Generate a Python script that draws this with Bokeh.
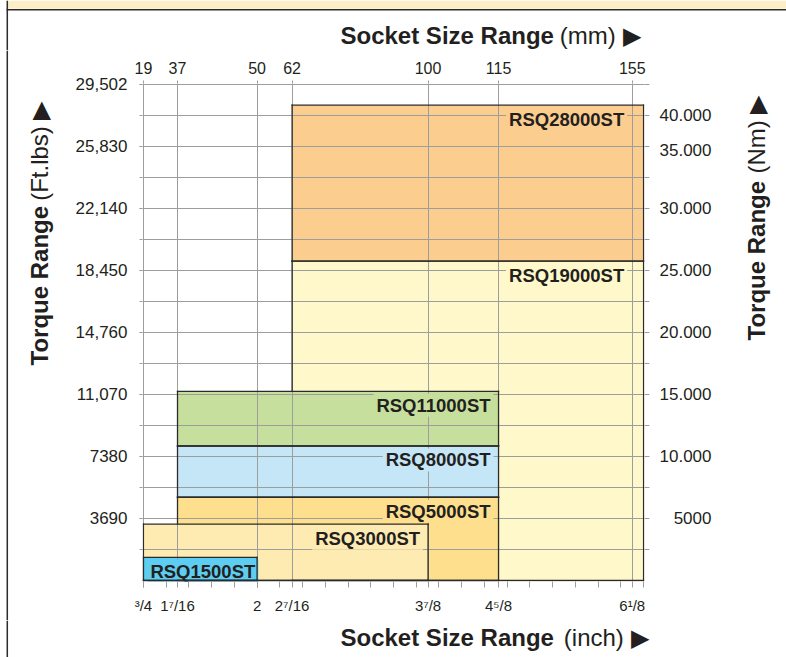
import math
from bokeh.plotting import figure
from bokeh.layouts import column, row
from bokeh.models import Range1d, LinearAxis, FixedTicker, ColumnDataSource
from bokeh.core.properties import value
from bokeh.embed import file_html
from bokeh.resources import INLINE

# ---------------- data ----------------
# positions of the labelled sizes along the drawn size scale
x_tick_pos = [0.75, 1.125, 2.0, 2.385, 3.88, 4.655, 6.125]
inch_labels = ["³/4", "1⁷/16", "2", "2⁷/16", "3⁷/8", "4⁵/8", "6¹/8"]
mm_labels = ["19", "37", "50", "62", "100", "115", "155"]

ftlb_ticks = [3690, 7380, 11070, 14760, 18450, 22140, 25830, 29502]
ftlb_labels = ["3690", "7380", "11,070", "14,760", "18,450", "22,140", "25,830", "29,502"]
nm_ticks = [3690, 7380, 11070, 14760, 18450, 22140, 25600, 27675]
nm_labels = ["5000", "10.000", "15.000", "20.000", "25.000", "30.000", "35.000", "40.000"]

models = ["RSQ28000ST", "RSQ19000ST", "RSQ11000ST", "RSQ8000ST", "RSQ5000ST", "RSQ3000ST", "RSQ1500ST"]
size_min = [2.385, 2.385, 1.125, 1.125, 1.125, 0.75, 0.75]
size_max = [6.25, 6.25, 4.655, 4.655, 4.655, 3.88, 2.0]
torque_min = [19000, 0, 8000, 4950, 0, 0, 0]
torque_max = [28270, 19000, 11250, 8000, 4950, 3350, 1380]
colors = ["#fbcd8e", "#fff8cb", "#c6df9d", "#c5e6f7", "#fddf8d", "#feebb2", "#5dcdf2"]
label_side = ["right", "right", "right", "right", "right", "right", "left"]

# ---------------- style ----------------
FONT = "Liberation Sans"
INK = "#231f20"
GRID = "#9d9d9d"
EDGE = "#2b2b2b"
BAND = "#fcefc8"

grid_step = 1845
y_grid_ticks = [grid_step * k for k in range(1, 16)] + [29502]
x_minor = [0.75 + 0.25 * k for k in range(23)]

def no_align(f):
    if "frame_align" in f.properties():
        f.frame_align = False
    return f

# ---------------- main chart ----------------
p = figure(width=686, height=570, output_backend="svg", toolbar_location=None,
           x_range=Range1d(0.74, 6.26), y_range=Range1d(-60, 29560),
           min_border_left=86, min_border_right=98, min_border_top=33, min_border_bottom=39,
           background_fill_color="white", border_fill_color="white", outline_line_color=None)
no_align(p)

def style_axis(ax, size, tick_out, minor_out, standoff):
    ax.axis_line_color = None
    ax.major_tick_line_color = GRID
    ax.minor_tick_line_color = GRID
    ax.major_tick_in = 0
    ax.minor_tick_in = 0
    ax.major_tick_out = tick_out
    ax.minor_tick_out = minor_out
    ax.major_label_text_font = FONT
    ax.major_label_text_font_size = size
    ax.major_label_text_color = INK
    ax.major_label_standoff = standoff

xb = p.xaxis[0]
xb.ticker = FixedTicker(ticks=x_tick_pos, minor_ticks=x_minor)
xb.major_label_overrides = dict(zip(x_tick_pos, inch_labels))
style_axis(xb, "15px", 6, 6, 9)

xt = LinearAxis(ticker=FixedTicker(ticks=x_tick_pos),
                major_label_overrides=dict(zip(x_tick_pos, mm_labels)))
style_axis(xt, "16px", 3, 0, 7)
p.add_layout(xt, "above")

yl = p.yaxis[0]
yl.ticker = FixedTicker(ticks=ftlb_ticks, minor_ticks=y_grid_ticks)
yl.major_label_overrides = dict(zip(ftlb_ticks, ftlb_labels))
style_axis(yl, "17px", 3, 3, 12)

def pad(s, width=6):
    n = width - len(s)
    extra = 0 if "." in s else 1
    return "\u00a0" * (2 * max(n - extra, 0) + extra) + s

yr = LinearAxis(ticker=FixedTicker(ticks=nm_ticks, minor_ticks=y_grid_ticks),
                major_label_overrides=dict(zip(nm_ticks, [pad(s) for s in nm_labels])))
style_axis(yr, "17px", 0, 5, 10)
p.add_layout(yr, "right")

p.xgrid.ticker = FixedTicker(ticks=x_tick_pos)
p.ygrid.ticker = FixedTicker(ticks=y_grid_ticks)
for g in (p.xgrid[0], p.ygrid[0]):
    g.grid_line_color = GRID
    g.grid_line_width = 1
    g.level = "underlay"

src = ColumnDataSource(dict(left=size_min, right=size_max, bottom=torque_min,
                            top=torque_max, color=colors, name=models))
p.quad(left="left", right="right", bottom="bottom", top="top", fill_color="color",
       line_color=None, source=src, level="image")

for side in ("right", "left"):
    idx = [i for i, s in enumerate(label_side) if s == side]
    if side == "right":
        xs = [min(size_max[i], x_tick_pos[-1]) for i in idx]
        off = -5
    else:
        xs = [size_min[i] for i in idx]
        off = 4
    ts = ColumnDataSource(dict(x=xs, y=[torque_max[i] for i in idx],
                               text=[models[i] for i in idx], color=[colors[i] for i in idx]))
    p.text(x="x", y="y", text="text", source=ts, x_offset=off, y_offset=14,
           text_align=side, text_baseline="middle", text_font=value(FONT),
           text_font_size="18.5px", text_font_style="bold", text_color=INK,
           background_fill_color="color", padding=(3, 1))

def subtract(a0, a1, covers):
    parts = [(a0, a1)]
    for c0, c1 in covers:
        new = []
        for s0, s1 in parts:
            if c1 <= s0 or c0 >= s1:
                new.append((s0, s1))
                continue
            if c0 > s0:
                new.append((s0, c0))
            if c1 < s1:
                new.append((c1, s1))
        parts = new
    return parts

sx0, sy0, sx1, sy1 = [], [], [], []
n = len(models)
for i in range(n):
    l, r, b, t = size_min[i], size_max[i], torque_min[i], torque_max[i]
    for e in (l, r):
        covers = [(torque_min[j], torque_max[j]) for j in range(i + 1, n)
                  if size_min[j] < e < size_max[j]]
        for a0, a1 in subtract(b, t, covers):
            sx0.append(e); sx1.append(e); sy0.append(a0); sy1.append(a1)
    for h in (b, t):
        covers = [(size_min[j], size_max[j]) for j in range(i + 1, n)
                  if torque_min[j] < h < torque_max[j]]
        for a0, a1 in subtract(l, r, covers):
            sx0.append(a0); sx1.append(a1); sy0.append(h); sy1.append(h)

p.segment(x0=sx0, y0=sy0, x1=sx1, y1=sy1, line_color=EDGE, line_width=1.3,
          line_cap="square")

# ---------------- title strips (page pixel coordinates, y = -page_y) ----------------
def strip(x0, x1, y0, y1):
    f = figure(width=x1 - x0, height=y1 - y0, output_backend="svg", toolbar_location=None,
               x_range=Range1d(x0, x1), y_range=Range1d(-y1, -y0),
               x_axis_type=None, y_axis_type=None, min_border=0,
               outline_line_color=None, background_fill_color="white",
               border_fill_color="white")
    f.xgrid.visible = False
    f.ygrid.visible = False
    return no_align(f)

def words(f, start, end, mid, bold_text, reg_text, vertical=False):
    common = dict(text_font=value(FONT), text_font_size="24px", text_color=INK,
                  text_baseline="middle")
    if not vertical:
        f.text(x=[start], y=[-mid], text=[bold_text], text_align="left",
               text_font_style="bold", **common)
        f.text(x=[end], y=[-mid], text=[reg_text], text_align="right",
               text_font_style="normal", **common)
    else:
        f.text(x=[mid], y=[-start], text=[bold_text], text_align="left",
               text_font_style="bold", angle=math.pi / 2, **common)
        f.text(x=[mid], y=[-end], text=[reg_text], text_align="right",
               text_font_style="normal", angle=math.pi / 2, **common)

W, H = 786, 657
top = strip(0, W, 0, 50)
top.quad(left=[7.5], right=[W], top=[0], bottom=[-8.3], fill_color=BAND, line_color=None)
top.segment(x0=[6], y0=[-9.2], x1=[W], y1=[-9.2], line_color=EDGE, line_width=1.6)
top.segment(x0=[6.8], y0=[0], x1=[6.8], y1=[-50], line_color=EDGE, line_width=1.5)
words(top, 340, 640, 35, "Socket Size Range", "(mm) ▶")

left = strip(0, 56, 50, 620)
left.segment(x0=[6.8], y0=[-50], x1=[6.8], y1=[-620], line_color=EDGE, line_width=1.5)
words(left, 365, 101, 39, "Torque Range", "(Ft.lbs) ▶", vertical=True)

right = strip(742, W, 50, 620)
words(right, 340, 95, 756, "Torque Range", "(Nm) ▶", vertical=True)

bottom = strip(0, W, 620, H)
bottom.segment(x0=[6.8], y0=[-620], x1=[6.8], y1=[-H], line_color=EDGE, line_width=1.5)
words(bottom, 340, 648, 637, "Socket Size Range", "(inch) ▶")

layout = column(top, row(left, p, right), bottom)
open("out.html", "w").write(file_html(layout, INLINE))
